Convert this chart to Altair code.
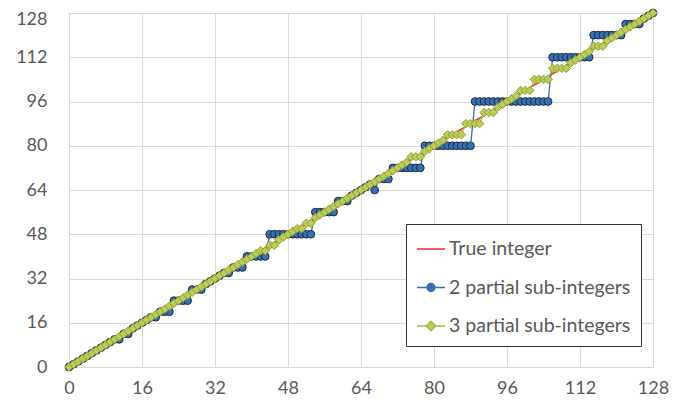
import altair as alt
import pandas as pd

x_vals = [0, 1, 2, 3, 4, 5, 6, 7, 8, 9, 10, 11, 12, 13, 14, 15, 16, 17, 18, 19,
          20, 21, 22, 23, 24, 25, 26, 27, 28, 29, 30, 31, 32, 33, 34, 35, 36, 37, 38, 39,
          40, 41, 42, 43, 44, 45, 46, 47, 48, 49, 50, 51, 52, 53, 54, 55, 56, 57, 58, 59,
          60, 61, 62, 63, 64, 65, 66, 67, 68, 69, 70, 71, 72, 73, 74, 75, 76, 77, 78, 79,
          80, 81, 82, 83, 84, 85, 86, 87, 88, 89, 90, 91, 92, 93, 94, 95, 96, 97, 98, 99,
          100, 101, 102, 103, 104, 105, 106, 107, 108, 109, 110, 111, 112, 113, 114, 115,
          116, 117, 118, 119, 120, 121, 122, 123, 124, 125, 126, 127, 128]

true_vals = [0, 1, 2, 3, 4, 5, 6, 7, 8, 9, 10, 11, 12, 13, 14, 15, 16, 17, 18, 19,
             20, 21, 22, 23, 24, 25, 26, 27, 28, 29, 30, 31, 32, 33, 34, 35, 36, 37, 38, 39,
             40, 41, 42, 43, 44, 45, 46, 47, 48, 49, 50, 51, 52, 53, 54, 55, 56, 57, 58, 59,
             60, 61, 62, 63, 64, 65, 66, 67, 68, 69, 70, 71, 72, 73, 74, 75, 76, 77, 78, 79,
             80, 81, 82, 83, 84, 85, 86, 87, 88, 89, 90, 91, 92, 93, 94, 95, 96, 97, 98, 99,
             100, 101, 102, 103, 104, 105, 106, 107, 108, 109, 110, 111, 112, 113, 114, 115,
             116, 117, 118, 119, 120, 121, 122, 123, 124, 125, 126, 127, 128]

two_vals = [0, 1, 2, 3, 4, 5, 6, 7, 8, 9, 10, 10, 12, 12, 14, 15, 16, 17, 18, 18,
            20, 20, 20, 24, 24, 24, 24, 28, 28, 28, 30, 31, 32, 33, 34, 34, 36, 36, 36, 40,
            40, 40, 40, 40, 48, 48, 48, 48, 48, 48, 48, 48, 48, 48, 56, 56, 56, 56, 56, 60,
            60, 60, 62, 63, 64, 65, 66, 64, 68, 68, 68, 72, 72, 72, 72, 72, 72, 72, 80, 80,
            80, 80, 80, 80, 80, 80, 80, 80, 80, 96, 96, 96, 96, 96, 96, 96, 96, 96, 96, 96,
            96, 96, 96, 96, 96, 96, 112, 112, 112, 112, 112, 112, 112, 112, 112, 120,
            120, 120, 120, 120, 120, 120, 124, 124, 124, 124, 126, 127, 128]

three_vals = [0, 1, 2, 3, 4, 5, 6, 7, 8, 9, 10, 11, 12, 13, 14, 15, 16, 17, 18, 19,
              20, 21, 22, 23, 24, 25, 26, 27, 28, 29, 30, 31, 32, 33, 34, 35, 36, 37, 38, 39,
              40, 41, 42, 42, 44, 44, 46, 47, 48, 49, 50, 50, 52, 52, 54, 55, 56, 57, 58, 59,
              60, 61, 62, 63, 64, 65, 66, 67, 68, 69, 70, 71, 72, 73, 74, 76, 76, 76, 78, 79,
              80, 81, 82, 84, 84, 84, 84, 88, 88, 88, 88, 92, 92, 92, 94, 95, 96, 97, 98, 100,
              100, 100, 104, 104, 104, 104, 108, 108, 108, 108, 110, 111, 112, 113, 114, 116,
              116, 116, 118, 119, 120, 121, 122, 123, 124, 125, 126, 127, 128]

series_names = ["True integer", "2 partial sub-integers", "3 partial sub-integers"]
tick_vals = [0, 16, 32, 48, 64, 80, 96, 112, 128]

rows = []
for name, ys in zip(series_names, [true_vals, two_vals, three_vals]):
    for xv, yv in zip(x_vals, ys):
        rows.append({"x": xv, "y": yv, "series": name})
df = pd.DataFrame(rows)

RED = "#ee2a22"
BLUE = "#3570b0"
BLUE_EDGE = "#1b2c48"
GREEN_LINE = "#a3ba3e"
GREEN_FILL = "#b9cd5e"
GREEN_EDGE = "#999c24"

xenc = alt.X("x:Q", scale=alt.Scale(domain=[0, 128], nice=False),
             axis=alt.Axis(values=tick_vals, title=None, labelPadding=12, labelFlush=False))
yenc = alt.Y("y:Q", scale=alt.Scale(domain=[0, 128], nice=False),
             axis=alt.Axis(values=tick_vals, title=None, labelPadding=22, labelFlush=False,
                           labelOffset={"condition": {"test": "datum.value == 128", "value": 6},
                                        "value": 0}))

base = alt.Chart(df).encode(x=xenc, y=yenc)

red_line = base.transform_filter(alt.datum.series == series_names[0]).mark_line(
    color=RED, strokeWidth=1.5)
blue_line = base.transform_filter(alt.datum.series == series_names[1]).mark_line(
    color=BLUE, strokeWidth=1.3)
blue_pts = base.transform_filter(alt.datum.series == series_names[1]).mark_point(
    shape="circle", filled=True, fill=BLUE, stroke=BLUE_EDGE, strokeWidth=1,
    size=60, opacity=1)
green_line = base.transform_filter(alt.datum.series == series_names[2]).mark_line(
    color=GREEN_LINE, strokeWidth=1.3)
green_pts = base.transform_filter(alt.datum.series == series_names[2]).mark_point(
    shape="diamond", filled=True, fill=GREEN_FILL, stroke=GREEN_EDGE, strokeWidth=1,
    size=72, opacity=1)

legend_paths = [
    "M-1,0H1",
    "M-1,0H-0.28M0.28,0H1M0.28,0A0.28,0.28,0,1,1,-0.28,0A0.28,0.28,0,1,1,0.28,0Z",
    "M-1,0H-0.34M0.34,0H1M-0.34,0L0,-0.34L0.34,0L0,0.34Z",
]
leg = alt.Legend(title=None, orient="none", legendX=337, legendY=211,
                 symbolSize=784, symbolStrokeWidth=1.5, labelFont="Lato",
                 labelFontSize=19.5, labelColor="#595959", labelOffset=3,
                 labelLimit=400, rowPadding=13.5, padding=10, strokeColor="#333333",
                 fillColor="white", symbolOpacity=1)

legend_layer = base.transform_filter("false").mark_point(filled=True, opacity=1).encode(
    shape=alt.Shape("series:N", scale=alt.Scale(domain=series_names, range=legend_paths),
                    legend=leg),
    fill=alt.Fill("series:N", scale=alt.Scale(domain=series_names,
                                              range=[RED, BLUE, GREEN_FILL]), legend=leg),
    stroke=alt.Stroke("series:N", scale=alt.Scale(domain=series_names,
                                                  range=[RED, BLUE, GREEN_LINE]), legend=leg),
)

chart = alt.layer(red_line, blue_line, blue_pts, green_line, green_pts, legend_layer).properties(
    width=584, height=354,
    autosize=alt.AutoSizeParams(type="none"),
    padding={"left": 61, "top": 5, "right": 24, "bottom": 32},
).configure_view(strokeWidth=0).configure_axis(
    labelFont="Lato", labelFontSize=18, labelColor="#595959",
    grid=True, gridColor="#d9d9d9", gridWidth=1, domain=False, ticks=False,
)

chart.save("out.html", embed_options={"renderer": "svg", "actions": False})
